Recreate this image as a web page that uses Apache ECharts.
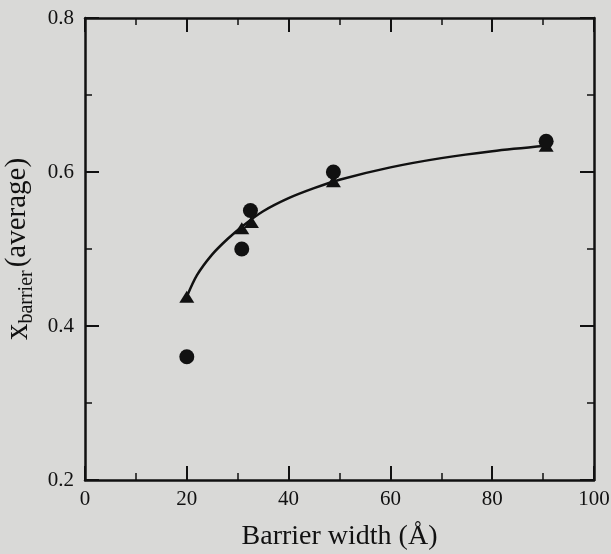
<!DOCTYPE html>
<html>
<head>
<meta charset="utf-8">
<script src="https://cdn.jsdelivr.net/npm/echarts@6/dist/echarts.min.js"></script>
<style>
html,body{margin:0;padding:0;background:#d9d9d7;}
#c{width:611px;height:554px;}
</style>
</head>
<body>
<div id="c"></div>
<script>
// Data
const circleX = [20, 30.8, 32.5, 48.8, 90.6];
const circleY = [0.36, 0.50, 0.55, 0.60, 0.64];
const triangleX = [20, 30.8, 32.7, 48.8, 90.6];
const triangleY = [0.438, 0.527, 0.535, 0.588, 0.634];
const curveX = [20, 22, 25, 28, 31, 35, 40, 45, 50, 60, 70, 80, 90.6];
const curveY = [0.438, 0.466, 0.493, 0.513, 0.530, 0.549, 0.566, 0.579, 0.590, 0.606, 0.618, 0.627, 0.634];
const xTicks = [0, 20, 40, 60, 80, 100];
const yTicks = [0.2, 0.4, 0.6, 0.8];

const zip = (a, b) => a.map((v, i) => [v, b[i]]);
const ink = '#111111';
const font = 'Liberation Serif';

const axisCommon = {
  axisLine: {show: true, onZero: false, lineStyle: {color: ink, width: 2.5}},
  axisTick: {show: true, inside: true, length: 14, lineStyle: {color: ink, width: 2}},
  minorTick: {show: true, splitNumber: 2, length: 7, lineStyle: {color: ink, width: 1.5}},
  splitLine: {show: false}
};

const chart = echarts.init(document.getElementById('c'), null, {renderer: 'canvas'});
chart.setOption({
  backgroundColor: '#d9d9d7',
  animation: false,
  grid: {left: 85, right: 17, top: 18, bottom: 74, containLabel: false, outerBoundsMode: 'none'},
  xAxis: [
    Object.assign({}, axisCommon, {
      type: 'value', min: xTicks[0], max: xTicks[xTicks.length - 1], interval: 20,
      position: 'bottom',
      axisLabel: {color: ink, fontFamily: font, fontSize: 21, margin: 9},
      name: 'Barrier width (Å)', nameLocation: 'middle', nameGap: 43,
      nameTextStyle: {color: ink, fontFamily: font, fontSize: 28}
    }),
    Object.assign({}, axisCommon, {
      type: 'value', min: xTicks[0], max: xTicks[xTicks.length - 1], interval: 20,
      position: 'top', axisLabel: {show: false}
    })
  ],
  yAxis: [
    Object.assign({}, axisCommon, {
      type: 'value', min: yTicks[0], max: yTicks[yTicks.length - 1], interval: 0.2,
      position: 'left',
      axisLabel: {color: ink, fontFamily: font, fontSize: 21, margin: 11, formatter: v => v.toFixed(1)},
      name: '{x|x}{sub|barrier}{n|(average)}', nameLocation: 'middle', nameGap: 48, nameRotate: 90,
      nameTextStyle: {
        color: ink, fontFamily: font, fontSize: 29,
        rich: {
          x: {fontFamily: font, fontSize: 33, color: ink, lineHeight: 38, verticalAlign: 'middle'},
          sub: {fontFamily: font, fontSize: 20, color: ink, lineHeight: 38, verticalAlign: 'bottom', padding: [0, 3, 0, 0]},
          n: {fontFamily: font, fontSize: 29, color: ink, lineHeight: 38, verticalAlign: 'middle'}
        }
      }
    }),
    Object.assign({}, axisCommon, {
      type: 'value', min: yTicks[0], max: yTicks[yTicks.length - 1], interval: 0.2,
      position: 'right', axisLabel: {show: false}
    })
  ],
  series: [
    {
      type: 'line', data: zip(curveX, curveY), smooth: 0.3,
      showSymbol: false, symbol: 'none',
      lineStyle: {color: ink, width: 2.5}, z: 2
    },
    {
      type: 'scatter', data: zip(triangleX, triangleY), symbol: 'triangle', symbolSize: [15, 12],
      itemStyle: {color: ink, opacity: 1}, z: 3
    },
    {
      type: 'scatter', data: zip(circleX, circleY), symbol: 'circle', symbolSize: 15,
      itemStyle: {color: ink, opacity: 1}, z: 4
    }
  ]
});
</script>
</body>
</html>
